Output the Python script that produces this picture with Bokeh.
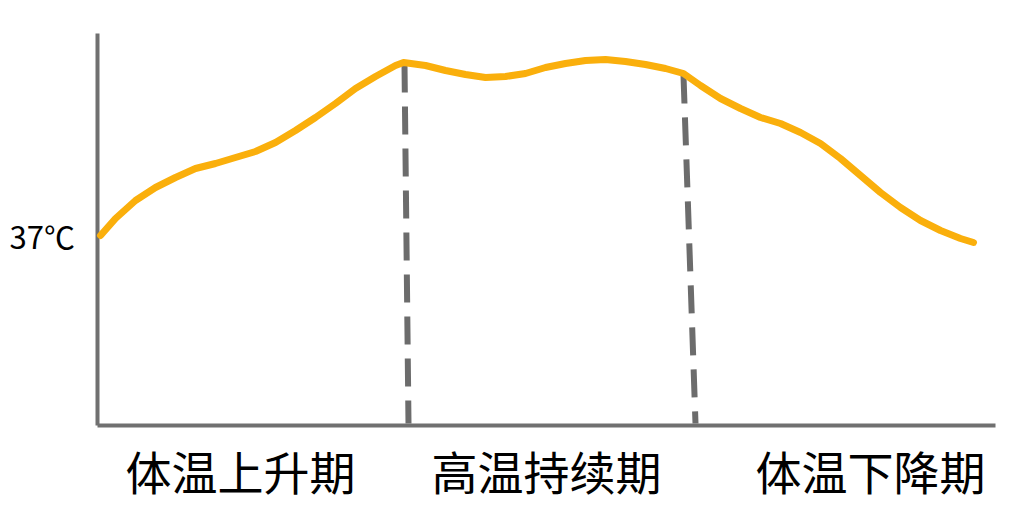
from bokeh.plotting import figure
from bokeh.models import Range1d
from bokeh.core.properties import value
from bokeh.embed import file_html
from bokeh.resources import INLINE

# body temperature curve (time in arbitrary units, temperature in degrees C)
t = [0.3, 1.8, 3.8, 5.8, 7.8, 9.8, 11.8, 13.8, 15.8, 17.8, 19.8, 21.8, 23.8, 25.8, 27.8, 29.8, 30.6,
     32.8, 34.8, 36.8, 38.8, 40.8, 42.8, 44.8, 46.8, 48.8, 50.8, 52.8, 54.8, 56.8, 58.6,
     60.3, 62.3, 64.3, 66.3, 68.3, 70.3, 72.3, 74.3, 76.3, 78.3, 80.3, 82.3, 84.3, 86.3, 87.6]
temp = [37.02, 37.19, 37.37, 37.50, 37.60, 37.69, 37.74, 37.80, 37.86, 37.95, 38.07, 38.20,
        38.34, 38.49, 38.61, 38.72, 38.75,
        38.72, 38.67, 38.63, 38.60, 38.61, 38.64, 38.70, 38.74, 38.77, 38.78, 38.76, 38.73,
        38.69, 38.64,
        38.52, 38.39, 38.29, 38.20, 38.14, 38.05, 37.94, 37.79, 37.62, 37.45, 37.30, 37.17,
        37.07, 36.99, 36.95]

# phase boundaries (top and bottom of each dashed line)
div_x0 = [30.7, 58.6]
div_x1 = [31.1, 59.8]
div_y0 = [38.73, 38.62]
div_y1 = [35.14, 35.14]

phase_labels = ["体温上升期", "高温持续期", "体温下降期"]
phase_x = [14.3, 44.9, 77.3]
phase_y = 34.68

axis_bottom = 35.12
axis_top = 39.04
axis_right = 89.8

p = figure(width=1011, height=508, output_backend="svg", toolbar_location=None,
           x_range=Range1d(-9.7, 91.4), y_range=Range1d(34.29, 39.37),
           min_border=0)
p.axis.visible = False
p.grid.visible = False
p.outline_line_color = None

# axes
p.segment(x0=[0, 0], y0=[axis_top, axis_bottom], x1=[0, axis_right], y1=[axis_bottom, axis_bottom],
          line_color="#707070", line_width=4)

# dashed phase dividers
p.segment(x0=div_x0, y0=div_y0, x1=div_x1, y1=div_y1,
          line_color="#6C6C6C", line_width=6, line_dash="28 14")

# temperature curve
p.line(t, temp, line_color="#FAAF0C", line_width=7, line_join="round", line_cap="round")

p.text(x=phase_x, y=[phase_y] * 3, text=phase_labels,
       text_font=value("Noto Sans CJK SC"), text_font_size="46px",
       text_align="center", text_baseline="middle", text_color="black")

p.text(x=[-8.8], y=[37.02], text=["37℃"],
       text_font=value("Noto Sans CJK SC"), text_font_size="31px",
       text_align="left", text_baseline="middle", text_color="black")

open("out.html", "w").write(file_html(p, INLINE))
